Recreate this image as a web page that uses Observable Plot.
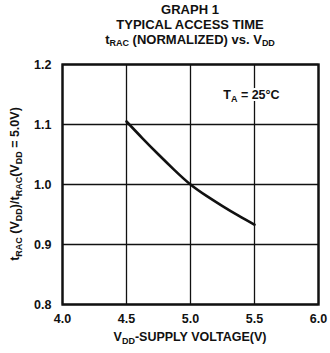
<!DOCTYPE html>
<html>
<head>
<meta charset="utf-8">
<script src="https://cdn.jsdelivr.net/npm/d3@7"></script>
<script src="https://cdn.jsdelivr.net/npm/@observablehq/plot@0.6"></script>
<style>
  html, body { margin: 0; padding: 0; background: #fff; }
  body { width: 330px; height: 353px; overflow: hidden; font-family: "Liberation Sans", Arial, Helvetica, sans-serif; }
  #title { position: relative; width: 330px; height: 52px; font-weight: bold; font-size: 13px; color: #111; }
  #title div { position: absolute; left: 62px; width: 256px; text-align: center; line-height: 14px; }
  #title sub { font-size: 9px; vertical-align: -2px; }
  #chart svg { display: block; }
</style>
</head>
<body>
<div id="title">
  <div style="top:3px">GRAPH 1</div>
  <div style="top:18px">TYPICAL ACCESS TIME</div>
  <div style="top:33px">t<sub>RAC</sub> (NORMALIZED) vs. V<sub>DD</sub></div>
</div>
<div id="chart"></div>
<script>
// Data
const voltage = [4.5, 4.625, 4.75, 4.875, 5.0, 5.125, 5.25, 5.375, 5.5];
const tracNorm = [1.105, 1.077, 1.05, 1.024, 1.0, 0.981, 0.964, 0.948, 0.933];
const xTicks = [4.0, 4.5, 5.0, 5.5, 6.0];
const yTicks = [0.8, 0.9, 1.0, 1.1, 1.2];
const annotation = { x: 5.48, y: 1.148 };

const data = voltage.map((v, i) => ({ v, t: tracNorm[i] }));

const plot = Plot.plot({
  width: 330,
  height: 301,
  marginTop: 12,
  marginBottom: 49,
  marginLeft: 62,
  marginRight: 12,
  style: { fontFamily: "'Liberation Sans', Arial, sans-serif", fontSize: "12.5px", fontWeight: "bold", color: "#111", background: "#fff" },
  x: { domain: [4, 6], ticks: xTicks, tickFormat: d => d.toFixed(1), label: null },
  y: { domain: [0.8, 1.2], ticks: yTicks, tickFormat: d => d.toFixed(1), label: null },
  marks: [
    Plot.gridX(xTicks, { stroke: "#111", strokeOpacity: 1, strokeWidth: 1.3 }),
    Plot.gridY(yTicks, { stroke: "#111", strokeOpacity: 1, strokeWidth: 1.3 }),
    Plot.frame({ stroke: "#111", strokeWidth: 2.4 }),
    Plot.axisX(xTicks, { tickSize: 0, tickPadding: 10, tickFormat: d => d.toFixed(1), fontWeight: "bold" }),
    Plot.axisY(yTicks, { tickSize: 0, tickPadding: 11, tickFormat: d => d.toFixed(1), fontWeight: "bold" }),
    Plot.line(data, { x: "v", y: "t", stroke: "#111", strokeWidth: 2.6, curve: "natural" })
  ]
});

document.getElementById("chart").appendChild(plot);

// Labels with subscripts, positioned through the plot's scales
const sx = plot.scale("x"), sy = plot.scale("y");
const svg = d3.select(plot);
const cx = (sx.range[0] + sx.range[1]) / 2;
const cy = (sy.range[0] + sy.range[1]) / 2;

function rich(g, parts, mainSize, subSize) {
  let prevSub = false;
  parts.forEach(([txt, sub]) => {
    const t = g.append("tspan").text(txt);
    if (sub) { t.attr("font-size", subSize).attr("dy", prevSub ? 0 : 3); }
    else { t.attr("font-size", mainSize).attr("dy", prevSub ? -3 : 0); }
    prevSub = sub;
  });
}

// X label
const xl = svg.append("text")
  .attr("x", cx).attr("y", sy.range[0] + 37)
  .attr("text-anchor", "middle")
  .attr("font-weight", "bold").attr("fill", "#111")
  .attr("font-family", "'Liberation Sans', Arial, sans-serif");
rich(xl, [["V", false], ["DD", true], ["-SUPPLY VOLTAGE(V)", false]], 12.5, 9);

// Y label
const yl = svg.append("text")
  .attr("transform", `translate(19,${cy}) rotate(-90)`)
  .attr("text-anchor", "middle")
  .attr("font-weight", "bold").attr("fill", "#111")
  .attr("font-family", "'Liberation Sans', Arial, sans-serif");
rich(yl, [["t", false], ["RAC", true], [" (V", false], ["DD", true], [")/t", false], ["RAC", true], ["(V", false], ["DD", true], [" = 5.0V)", false]], 12.5, 9);

// Annotation
const an = svg.append("text")
  .attr("x", sx.apply(annotation.x)).attr("y", sy.apply(annotation.y) + 4)
  .attr("text-anchor", "middle")
  .attr("font-weight", "bold").attr("fill", "#111")
  .attr("stroke", "#fff").attr("stroke-width", 4).attr("paint-order", "stroke")
  .attr("font-family", "'Liberation Sans', Arial, sans-serif");
rich(an, [["T", false], ["A", true], [" = 25°C", false]], 12.5, 9);
</script>
</body>
</html>
